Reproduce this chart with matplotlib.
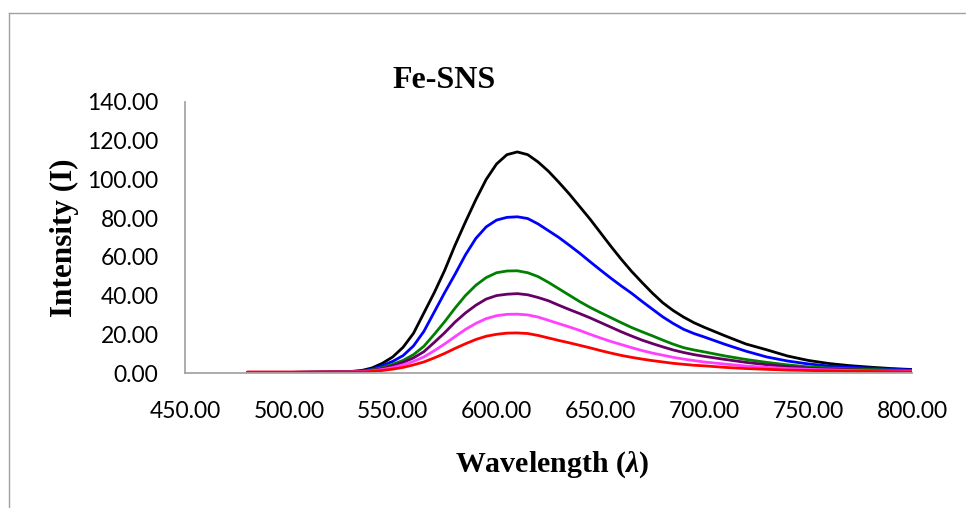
import matplotlib
matplotlib.use("Agg")
import matplotlib.pyplot as plt
from matplotlib.lines import Line2D

plt.rcParams['mathtext.fontset'] = 'custom'
plt.rcParams['mathtext.it'] = 'Liberation Serif:italic:bold'
plt.rcParams['mathtext.rm'] = 'Liberation Serif:bold'

# Emission spectra (wavelength in nm, intensity in a.u.)
wavelength = [480, 490, 500, 510, 520, 530, 535, 540, 545, 550, 555, 560, 565, 570,
              575, 580, 585, 590, 595, 600, 605, 610, 615, 620, 625, 630, 635, 640,
              645, 650, 655, 660, 665, 670, 675, 680, 685, 690, 695, 700, 710, 720,
              730, 740, 750, 760, 770, 780, 790, 800]

black_series = [0.3, 0.3, 0.3, 0.4, 0.5, 0.8, 1.3, 2.6, 5.0, 8.3, 13.3, 20.5, 31.0, 41.5,
                53.0, 66.0, 78.0, 89.5, 100.0, 108.0, 112.8, 114.2, 112.8, 109.0, 104.2, 98.5, 92.5, 86.0,
                79.5, 72.5, 65.5, 58.8, 52.5, 46.8, 41.3, 36.3, 32.3, 28.9, 26.0, 23.6, 19.2, 15.0,
                12.0, 8.8, 6.5, 4.9, 3.8, 3.0, 2.3, 1.8]
blue_series = [0.3, 0.3, 0.3, 0.4, 0.5, 0.7, 1.0, 2.0, 3.8, 6.0, 9.0, 14.0, 21.5, 31.5,
               41.5, 51.0, 61.0, 69.5, 75.5, 79.0, 80.4, 80.7, 79.8, 77.0, 73.5, 70.0, 66.0, 61.9,
               57.5, 53.2, 49.0, 45.0, 41.2, 37.0, 33.0, 29.0, 25.6, 22.6, 20.4, 18.6, 14.8, 11.3,
               8.3, 6.2, 4.7, 3.6, 3.0, 2.5, 2.0, 1.6]
green_series = [0.3, 0.3, 0.3, 0.4, 0.5, 0.6, 0.9, 1.6, 2.8, 4.5, 6.5, 9.5, 13.8, 20.0,
                26.5, 33.5, 40.0, 45.3, 49.3, 51.8, 52.7, 52.8, 51.8, 49.8, 46.8, 43.5, 40.2, 36.9,
                33.9, 31.2, 28.6, 26.0, 23.5, 21.3, 19.2, 17.0, 14.9, 13.1, 11.9, 10.9, 8.8, 7.0,
                5.5, 4.2, 3.2, 2.6, 2.2, 1.8, 1.5, 1.3]
purple_series = [0.3, 0.3, 0.3, 0.4, 0.5, 0.6, 0.8, 1.3, 2.3, 3.7, 5.5, 7.8, 11.0, 15.8,
                 20.8, 26.3, 31.0, 35.0, 38.2, 40.0, 40.7, 41.0, 40.4, 39.0, 37.3, 35.0, 32.8, 30.7,
                 28.5, 26.1, 23.7, 21.3, 19.1, 17.0, 15.2, 13.5, 11.9, 10.6, 9.5, 8.6, 7.0, 5.5,
                 4.3, 3.3, 2.5, 2.0, 1.7, 1.4, 1.2, 1.0]
magenta_series = [0.4, 0.4, 0.4, 0.4, 0.5, 0.6, 0.7, 1.1, 1.8, 2.8, 4.2, 6.0, 8.3, 11.5,
                  15.0, 18.8, 22.5, 25.6, 28.1, 29.6, 30.3, 30.4, 30.0, 28.9, 27.2, 25.5, 23.8, 22.0,
                  20.0, 18.1, 16.3, 14.7, 13.1, 11.6, 10.3, 9.2, 8.1, 7.2, 6.4, 5.7, 4.6, 3.6,
                  2.9, 2.3, 1.9, 1.6, 1.3, 1.1, 1.0, 0.9]
red_series = [0.5, 0.5, 0.5, 0.5, 0.5, 0.5, 0.5, 0.8, 1.3, 2.0, 2.9, 4.2, 5.7, 7.8,
              10.1, 12.7, 15.1, 17.3, 19.0, 20.0, 20.6, 20.7, 20.4, 19.4, 18.1, 16.8, 15.6, 14.3,
              13.0, 11.6, 10.3, 9.1, 8.1, 7.2, 6.4, 5.7, 5.0, 4.5, 4.0, 3.7, 2.9, 2.3,
              1.9, 1.5, 1.3, 1.1, 0.9, 0.8, 0.7, 0.6]

series = [black_series, blue_series, green_series, purple_series, magenta_series, red_series]
colors = ['#000000', '#0000FF', '#008000', '#660066', '#FF40FF', '#FF0000']

x_ticks = [450, 500, 550, 600, 650, 700, 750, 800]
y_ticks = [0, 20, 40, 60, 80, 100, 120, 140]

fig = plt.figure(figsize=(9.66, 5.08), dpi=100)
ax = fig.add_axes([185 / 966, 1 - 373 / 508, (912 - 185) / 966, (373 - 102) / 508])

for values, color in zip(series, colors):
    ax.plot(wavelength, values, color=color, linewidth=2.0,
            solid_joinstyle='round', solid_capstyle='round')

ax.set_xlim(450, 800)
ax.set_ylim(0, 140)
ax.set_xticks(x_ticks)
ax.set_yticks(y_ticks)
ax.set_xticklabels([f"{v:.2f}" for v in x_ticks])
ax.set_yticklabels([f"{v:.2f}" for v in y_ticks])

for lbl in ax.get_xticklabels() + ax.get_yticklabels():
    lbl.set_fontfamily('Lato')
    lbl.set_fontsize(16.5)
ax.tick_params(axis='both', length=0, colors='#000000')
ax.tick_params(axis='x', pad=20)
ax.tick_params(axis='y', pad=19)

for side in ['top', 'right']:
    ax.spines[side].set_visible(False)
for side in ['left', 'bottom']:
    ax.spines[side].set_color('#A6A6A6')
    ax.spines[side].set_linewidth(1.3)

serif_bold = dict(family='Liberation Serif', weight='bold')
fig.text(444.5 / 966, 1 - 88 / 508, 'Fe-SNS', ha='center', va='baseline',
         fontsize=23, **serif_bold)
fig.text(552 / 966, 1 - 472 / 508, r'Wavelength ($\lambda$)', ha='center', va='baseline',
         fontsize=21.5, **serif_bold)
fig.text(64 / 966, 1 - 237.5 / 508, 'Intensity (I)', ha='center', va='center',
         rotation=90, fontsize=22.5, **serif_bold)

# chart-area frame (top and left edges)
frame_color = '#A0A0A0'
fig.add_artist(Line2D([9 / 966, 1.0], [1 - 12.5 / 508, 1 - 12.5 / 508],
                      transform=fig.transFigure, color=frame_color, linewidth=1.0))
fig.add_artist(Line2D([9 / 966, 9 / 966], [0.0, 1 - 12.5 / 508],
                      transform=fig.transFigure, color=frame_color, linewidth=1.0))

fig.savefig('out.png', dpi=100)
